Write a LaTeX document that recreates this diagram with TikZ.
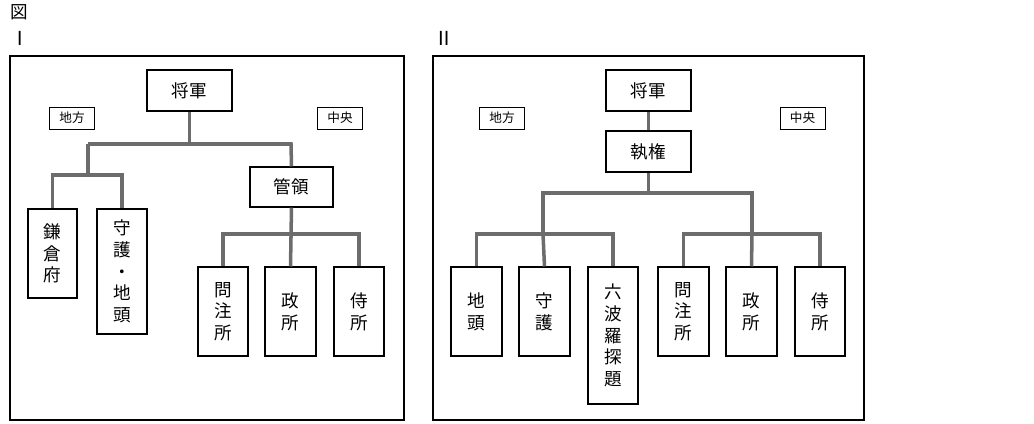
\documentclass[tikz,border=0pt]{standalone}
\usepackage{fontspec}
\setmainfont{Noto Sans CJK JP}
\newfontfamily\headfont{Noto Serif CJK JP}
\usetikzlibrary{positioning}
\tikzset{
  box/.style={draw, line width=0.6pt, inner sep=0pt, align=center, font=\fontsize{10}{12.4}\selectfont},
  tag/.style={draw, line width=0.5pt, inner sep=0pt, minimum width=0.9cm, minimum height=0.44cm, font=\fontsize{7.2}{8}\selectfont},
  conn/.style={gray!85!black, line width=2pt},
  frame/.style={line width=0.6pt}
}
\begin{document}
\begin{tikzpicture}[x=0.02cm, y=-0.02cm]
    \useasboundingbox (0,0) rectangle (1034,423);
    % headings
    \node[font=\fontsize{10}{12}\selectfont] (zu) at (19,12) {図};
    \node[font=\fontsize{11}{12}\selectfont] (one) at (20,38) {Ⅰ};
    \node[font=\fontsize{11}{12}\selectfont] (two) at (444,38) {Ⅱ};
    \draw[frame] (10,56) rectangle (404,420);
    \draw[frame] (433,56) rectangle (864,420);

    % --- panel I ---
    \node[box, minimum width=1.7cm, minimum height=0.82cm] (shoA) at (189.5,90.5) {将軍};
    \node[tag] (chihoA) at (72,118) {地方};
    \node[tag] (chuoA) at (340,118) {中央};
    \node[box, minimum width=1.66cm, minimum height=0.8cm] (kanrei) at (291.5,187) {管領};
    \node[box, minimum width=0.98cm, minimum height=1.78cm] (kama) at (52.5,253.5) {鎌\\倉\\府};
    \node[box, minimum width=1.0cm, minimum height=2.5cm] (shugoA) at (122,271.5) {守\\護\\・\\地\\頭};
    \node[box, minimum width=1.0cm, minimum height=1.78cm] (monA) at (223,311.5) {問\\注\\所};
    \node[box, minimum width=1.02cm, minimum height=1.78cm] (manA) at (290.5,311.5) {政\\所};
    \node[box, minimum width=1.0cm, minimum height=1.78cm] (samA) at (359,311.5) {侍\\所};

    \coordinate (a1) at (88,144);
    \coordinate (a2) at (291,144);
    \coordinate (a3) at (88,175);
    \coordinate (a4) at (291,234);
    \draw[conn] (shoA.south) -- (shoA.south |- a1);
    \draw[conn] (a1) -- (a2) -- (kanrei.north);
    \draw[conn] (a1) -- (a3);
    \draw[conn] (kama.north) |- (a3) -| (shugoA.north);
    \draw[conn] (kanrei.south) -- (manA.north);
    \draw[conn] (monA.north) |- (a4) -| (samA.north);

    % --- panel II ---
    \node[box, minimum width=1.7cm, minimum height=0.82cm] (shoB) at (648.5,90.5) {将軍};
    \node[box, minimum width=1.7cm, minimum height=0.82cm] (shikken) at (648.5,151.5) {執権};
    \node[tag] (chihoB) at (502,118) {地方};
    \node[tag] (chuoB) at (802.5,118) {中央};
    \node[box, minimum width=1.02cm, minimum height=1.78cm] (jito) at (476.5,311.5) {地\\頭};
    \node[box, minimum width=1.02cm, minimum height=1.78cm] (shugoB) at (544.5,311.5) {守\\護};
    \node[box, minimum width=1.0cm, minimum height=2.74cm] (rokuha) at (613,335.5) {六\\波\\羅\\探\\題};
    \node[box, minimum width=1.02cm, minimum height=1.78cm] (monB) at (683.5,311.5) {問\\注\\所};
    \node[box, minimum width=1.02cm, minimum height=1.78cm] (manB) at (751.5,311.5) {政\\所};
    \node[box, minimum width=1.0cm, minimum height=1.78cm] (samB) at (820,311.5) {侍\\所};

    \coordinate (b1) at (543,193);
    \coordinate (b2) at (752,193);
    \coordinate (b3) at (543,234);
    \coordinate (b4) at (752,234);
    \draw[conn] (shoB) -- (shikken);
    \draw[conn] (shikken.south) -- (shikken.south |- b1);
    \draw[conn] (b3) -- (b1) -- (b2) -- (b4);
    \draw[conn] (jito.north) |- (b3) -| (rokuha.north);
    \draw[conn] (b3) -- (shugoB.north);
    \draw[conn] (monB.north) |- (b4) -| (samB.north);
    \draw[conn] (b4) -- (manB.north);
\end{tikzpicture}
\end{document}
